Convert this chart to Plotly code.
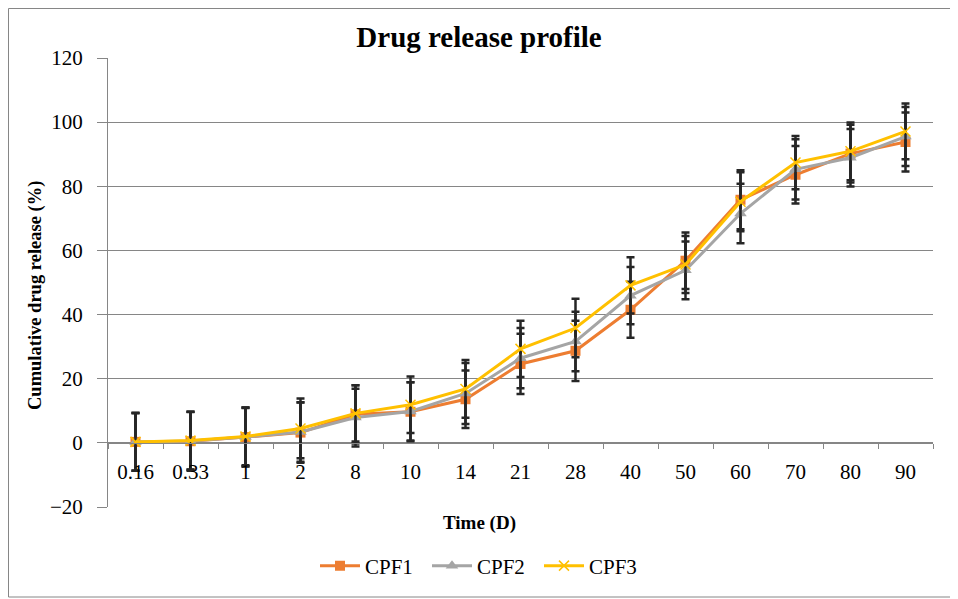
import plotly.graph_objects as go

# ---- data ----
time_labels = ["0.16", "0.33", "1", "2", "8", "10", "14", "21", "28", "40", "50", "60", "70", "80", "90"]
cpf1 = [0.3, 0.5, 1.8, 3.2, 8.9, 9.7, 13.6, 24.6, 28.7, 41.5, 56.8, 75.8, 83.6, 90.2, 93.8]
cpf2 = [0.3, 0.6, 1.8, 3.4, 7.9, 9.8, 15.4, 26.4, 31.6, 45.9, 53.8, 71.5, 85.3, 88.9, 95.5]
cpf3 = [0.3, 0.7, 2.0, 4.5, 9.2, 11.9, 16.8, 29.3, 35.8, 49.1, 55.6, 75.2, 87.4, 90.9, 97.1]
err1 = [9.0, 9.2, 9.2, 9.4, 9.1, 9.2, 9.0, 9.4, 9.4, 8.7, 8.8, 9.2, 9.0, 9.0, 9.2]
err2 = [9.0, 9.0, 9.1, 9.3, 9.0, 9.1, 9.5, 9.4, 9.3, 8.9, 9.0, 9.3, 9.4, 9.0, 9.2]
err3 = [9.0, 9.0, 9.0, 9.3, 8.8, 8.8, 9.0, 8.8, 9.1, 8.8, 8.9, 9.2, 8.3, 9.0, 8.7]
y_ticks = [-20, 0, 20, 40, 60, 80, 100, 120]

# page body margin offsets the figure by 8 px; positions below are in screen px
OFF = 8
W, H = 958 - OFF, 599 - OFF
PL, PR, PT, PB = 108, 933, 58, 507          # plot area on screen
L, T = PL - OFF, PT - OFF
R = W - (PR - OFF)
B = H - (PB - OFF)
PW, PH = W - L - R, H - T - B
FONT = "Liberation Serif"
GRID = "#868686"
ERRC = "#262626"

ymin, ymax = -20, 120


def px_x(p):
    return (p - PL) / PW


def px_y(p):
    return (PB - p) / PH


fig = go.Figure()

series = [
    ("CPF1", cpf1, err1, "#ED7D31", dict(symbol="square", size=10, color="#ED7D31")),
    ("CPF2", cpf2, err2, "#A5A5A5", dict(symbol="triangle-up", size=11, color="#A5A5A5")),
    ("CPF3", cpf3, err3, "#FFC000", dict(symbol="x-thin", size=10, color="#FFC000",
                                          line=dict(color="#FFC000", width=1.5))),
]

for name, vals, errs, col, mk in series:
    fig.add_trace(go.Scatter(
        x=time_labels, y=vals, name=name, mode="lines+markers",
        line=dict(color=col, width=3),
        marker=mk,
        error_y=dict(type="data", array=errs, visible=True, color=ERRC,
                     thickness=2.5, width=4),
        hoverinfo="skip",
    ))

fig.update_layout(
    width=W, height=H,
    margin=dict(l=L, r=R, t=T, b=B),
    paper_bgcolor="white", plot_bgcolor="white",
    font=dict(family=FONT, size=21, color="black"),
    title=dict(text="<b>Drug release profile</b>", xref="container", x=(479 - OFF) / W,
               xanchor="center", y=1 - (37 - OFF) / H, yanchor="middle",
               font=dict(family=FONT, size=29, color="black")),
    showlegend=True,
    legend=dict(orientation="h", xref="paper", yref="paper",
                x=px_x(315), xanchor="left", y=px_y(566), yanchor="middle",
                font=dict(family=FONT, size=21, color="black"),
                bgcolor="rgba(0,0,0,0)", itemwidth=40,
                entrywidth=57, entrywidthmode="pixels"),
    xaxis=dict(type="category", categoryorder="array", categoryarray=time_labels,
               range=[-0.5, len(time_labels) - 0.5],
               anchor="free", position=(0 - ymin) / (ymax - ymin),
               showline=True, linecolor=GRID, linewidth=1,
               showgrid=False, zeroline=False,
               ticks="outside", tickson="boundaries", ticklen=5, tickcolor=GRID,
               ticklabelstandoff=10,
               tickfont=dict(family=FONT, size=21, color="black")),
    yaxis=dict(range=[ymin, ymax], tickmode="array", tickvals=y_ticks,
               showline=True, linecolor=GRID, linewidth=1,
               showgrid=True, gridcolor=GRID, gridwidth=1,
               zeroline=False,
               ticks="outside", ticklen=10, tickcolor=GRID,
               ticklabelstandoff=10,
               tickfont=dict(family=FONT, size=21, color="black")),
)

# axis titles (Excel centres them over the whole chart)
fig.add_annotation(text="<b>Time (D)</b>", xref="paper", yref="paper",
                   x=px_x(479), y=px_y(523), xanchor="center", yanchor="middle",
                   showarrow=False, font=dict(family=FONT, size=19, color="black"))
fig.add_annotation(text="<b>Cumulative drug release (%)</b>", xref="paper", yref="paper",
                   x=px_x(35), y=px_y(296), xanchor="center", yanchor="middle",
                   textangle=-90, showarrow=False,
                   font=dict(family=FONT, size=18.5, color="black"))

# chart border (kept inside the figure, which starts 8 px into the page)
fig.add_shape(type="rect", xref="paper", yref="paper", layer="below",
              x0=px_x(OFF + 0.5), x1=px_x(955), y0=px_y(597), y1=px_y(OFF + 0.5),
              line=dict(color=GRID, width=1), fillcolor="rgba(0,0,0,0)")

fig.write_html("out.html")
